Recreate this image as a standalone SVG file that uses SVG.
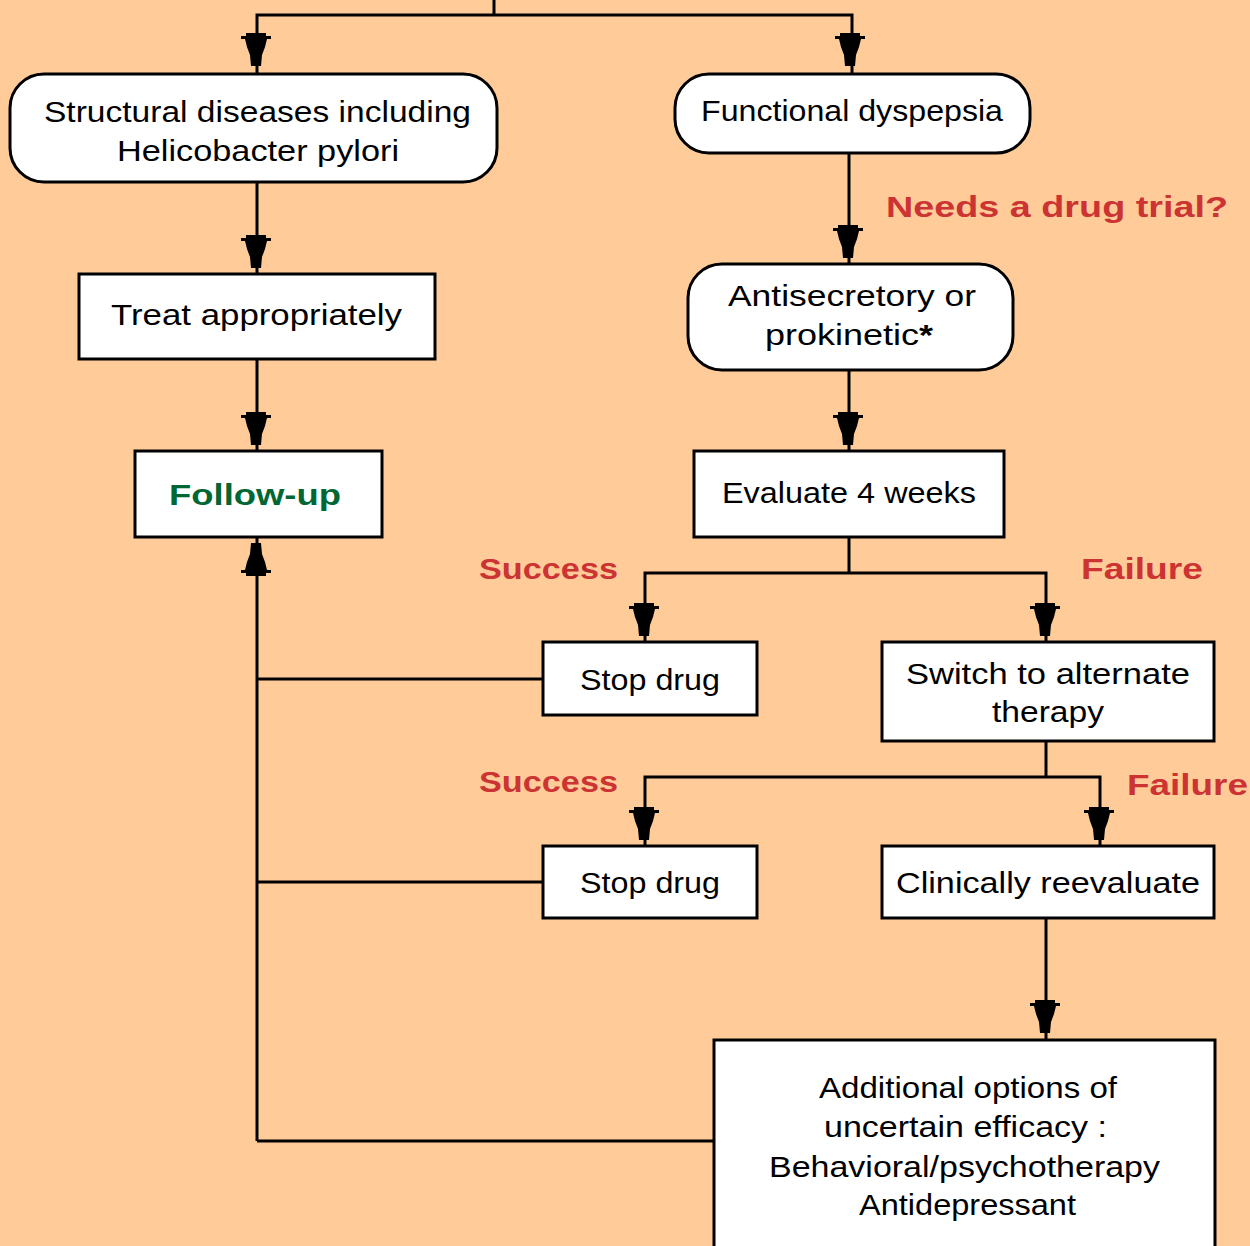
<svg xmlns="http://www.w3.org/2000/svg" width="1250" height="1246" viewBox="0 0 1250 1246">
<style>
.bx{fill:#fff;stroke:#000;stroke-width:3}
.ln{fill:none;stroke:#000;stroke-width:3}
.t{font-family:"Liberation Sans",Arial,sans-serif;font-size:29px;fill:#000}
.r{font-family:"Liberation Sans",Arial,sans-serif;font-size:29px;font-weight:bold;fill:#cc3333}
.g{font-family:"Liberation Sans",Arial,sans-serif;font-size:29px;font-weight:bold;fill:#006633}
</style>
<defs>
<path id="ad" d="M-10,0 H10 V3 H15 V6 H11 L9,14 L6,22 L5,33 H-5 L-6,22 L-9,14 L-11,6 H-15 V3 H-10 Z" fill="#000"/>
</defs>
<rect width="1250" height="1246" fill="#ffcc99"/>
<g id="connectors">
<polyline class="ln" points="494,0 494,15"/>
<polyline class="ln" points="257,74 257,15 852,15 852,74"/>
<line class="ln" x1="257" y1="182" x2="257" y2="274"/>
<line class="ln" x1="849" y1="153" x2="849" y2="264"/>
<line class="ln" x1="257" y1="359" x2="257" y2="451"/>
<line class="ln" x1="849" y1="370" x2="849" y2="451"/>
<polyline class="ln" points="849,537 849,573"/>
<polyline class="ln" points="645,642 645,573 1046,573 1046,642"/>
<polyline class="ln" points="1046,741 1046,777"/>
<polyline class="ln" points="645,846 645,777 1100,777 1100,846"/>
<line class="ln" x1="1046" y1="918" x2="1046" y2="1040"/>
<line class="ln" x1="257" y1="537" x2="257" y2="1141"/>
<line class="ln" x1="257" y1="679" x2="543" y2="679"/>
<line class="ln" x1="257" y1="882" x2="543" y2="882"/>
<line class="ln" x1="257" y1="1141" x2="714" y2="1141"/>
<use href="#ad" x="256" y="33"/>
<use href="#ad" x="850" y="33"/>
<use href="#ad" x="256" y="235"/>
<use href="#ad" x="848" y="225"/>
<use href="#ad" x="256" y="412"/>
<use href="#ad" x="848" y="412"/>
<use href="#ad" x="644" y="603"/>
<use href="#ad" x="1045" y="603"/>
<use href="#ad" x="644" y="807"/>
<use href="#ad" x="1099" y="807"/>
<use href="#ad" x="1045" y="1000"/>
<use href="#ad" transform="translate(256,576) scale(1,-1)"/>
</g>
<g id="structural">
<rect class="bx" x="10" y="74" width="487" height="108" rx="34"/>
<text class="t" x="44" y="122" textLength="427" lengthAdjust="spacingAndGlyphs">Structural diseases including</text>
<text class="t" x="117" y="161" textLength="282" lengthAdjust="spacingAndGlyphs">Helicobacter pylori</text>
</g>
<g id="functional">
<rect class="bx" x="675" y="74" width="355" height="79" rx="34"/>
<text class="t" x="701" y="121" textLength="302" lengthAdjust="spacingAndGlyphs">Functional dyspepsia</text>
</g>
<text class="r" x="886" y="217" textLength="342" lengthAdjust="spacingAndGlyphs">Needs a drug trial?</text>
<g id="treat">
<rect class="bx" x="79" y="274" width="356" height="85"/>
<text class="t" x="111" y="325" textLength="291" lengthAdjust="spacingAndGlyphs">Treat appropriately</text>
</g>
<g id="antisecretory">
<rect class="bx" x="688" y="264" width="325" height="106" rx="34"/>
<text class="t" x="728" y="306" textLength="248" lengthAdjust="spacingAndGlyphs">Antisecretory or</text>
<text class="t" x="765" y="345" textLength="168" lengthAdjust="spacingAndGlyphs">prokinetic<tspan font-weight="bold">*</tspan></text>
</g>
<g id="followup">
<rect class="bx" x="135" y="451" width="247" height="86"/>
<text class="g" x="169" y="505" textLength="172" lengthAdjust="spacingAndGlyphs">Follow-up</text>
</g>
<g id="evaluate">
<rect class="bx" x="694" y="451" width="310" height="86"/>
<text class="t" x="722" y="503" textLength="254" lengthAdjust="spacingAndGlyphs">Evaluate 4 weeks</text>
</g>
<text class="r" x="479" y="579" textLength="139" lengthAdjust="spacingAndGlyphs">Success</text>
<text class="r" x="1081" y="579" textLength="122" lengthAdjust="spacingAndGlyphs">Failure</text>
<g id="stop1">
<rect class="bx" x="543" y="642" width="214" height="73"/>
<text class="t" x="580" y="690" textLength="140" lengthAdjust="spacingAndGlyphs">Stop drug</text>
</g>
<g id="switch">
<rect class="bx" x="882" y="642" width="332" height="99"/>
<text class="t" x="906" y="684" textLength="284" lengthAdjust="spacingAndGlyphs">Switch to alternate</text>
<text class="t" x="992" y="722" textLength="112" lengthAdjust="spacingAndGlyphs">therapy</text>
</g>
<text class="r" x="479" y="792" textLength="139" lengthAdjust="spacingAndGlyphs">Success</text>
<text class="r" x="1127" y="795" textLength="121" lengthAdjust="spacingAndGlyphs">Failure</text>
<g id="stop2">
<rect class="bx" x="543" y="846" width="214" height="72"/>
<text class="t" x="580" y="893" textLength="140" lengthAdjust="spacingAndGlyphs">Stop drug</text>
</g>
<g id="reevaluate">
<rect class="bx" x="882" y="846" width="332" height="72"/>
<text class="t" x="896" y="893" textLength="304" lengthAdjust="spacingAndGlyphs">Clinically reevaluate</text>
</g>
<g id="additional">
<rect class="bx" x="714" y="1040" width="501" height="220"/>
<text class="t" x="819" y="1098" textLength="298" lengthAdjust="spacingAndGlyphs">Additional options of</text>
<text class="t" x="824" y="1137" textLength="283" lengthAdjust="spacingAndGlyphs">uncertain efficacy :</text>
<text class="t" x="769" y="1177" textLength="391" lengthAdjust="spacingAndGlyphs">Behavioral/psychotherapy</text>
<text class="t" x="859" y="1215" textLength="217" lengthAdjust="spacingAndGlyphs">Antidepressant</text>
</g>
</svg>
